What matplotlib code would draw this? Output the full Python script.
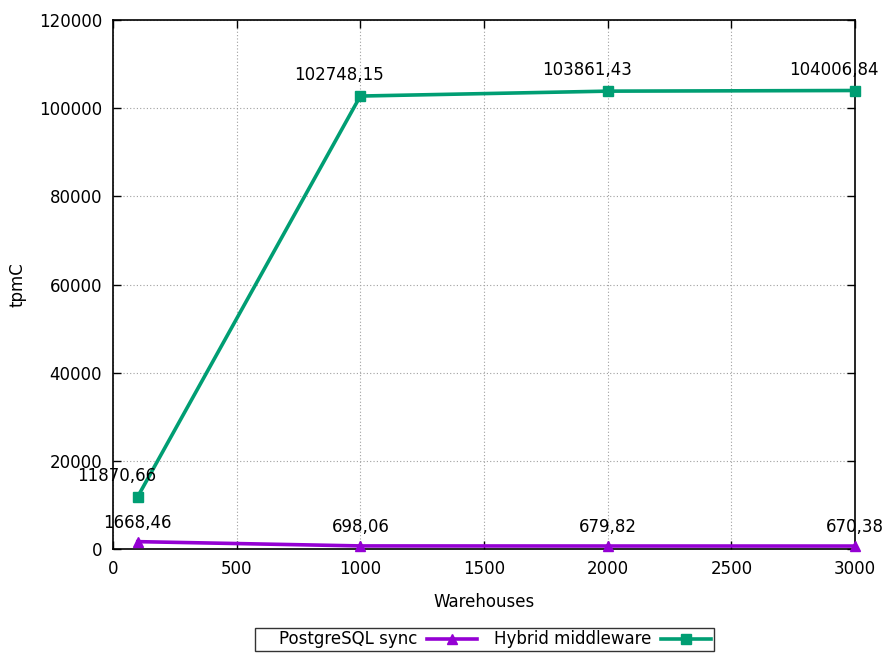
import matplotlib
matplotlib.use("Agg")
import matplotlib.pyplot as plt

warehouses = [100, 1000, 2000, 3000]
pg_sync = [1668.46, 698.06, 679.82, 670.38]
hybrid = [11870.66, 102748.15, 103861.43, 104006.84]
pg_labels = ["1668,46", "698,06", "679,82", "670,38"]
hy_labels = ["11870,66", "102748,15", "103861,43", "104006,84"]

plt.rcParams['font.family'] = ['DejaVu Sans']
plt.rcParams['font.size'] = 12

fig = plt.figure(figsize=(8.85, 6.53), dpi=100)
ax = fig.add_axes([113/885, 1-549/653, (855-113)/885, (549-20)/653])

purple = '#9400d3'
green = '#009e73'

ax.plot(warehouses, pg_sync, color=purple, lw=2.6, marker='^', ms=7.5, label='PostgreSQL sync',
        clip_on=False, zorder=3)
ax.plot(warehouses, hybrid, color=green, lw=2.6, marker='s', ms=6.5, label='Hybrid middleware',
        clip_on=False, zorder=3)

px = 72 / 100  # points per pixel
for x, y, t in zip(warehouses, pg_sync, pg_labels):
    ax.annotate(t, (x, y), xytext=(0, 19 * px), textcoords='offset points', ha='center', va='center')
for x, y, t in zip(warehouses, hybrid, hy_labels):
    ax.annotate(t, (x, y), xytext=(-21 * px, 21 * px), textcoords='offset points', ha='center', va='center')

ax.set_xlim(0, 3000)
ax.set_ylim(0, 120000)
ax.set_xticks([0, 500, 1000, 1500, 2000, 2500, 3000])
ax.set_yticks(range(0, 120001, 20000))
ax.tick_params(direction='in', top=True, right=True, length=6, width=1)
ax.tick_params(axis='y', pad=8)
ax.tick_params(axis='x', pad=8)
ax.grid(True, color='#a0a0a0', linestyle=(0, (1, 2)), linewidth=0.8)
for s in ax.spines.values():
    s.set_linewidth(1.2)
ax.set_xlabel('Warehouses')
ax.set_ylabel('tpmC')
ax.xaxis.set_label_coords(0.5, (549 - 602) / 529, transform=ax.transAxes)
ax.xaxis.label.set_va('center')
ax.yaxis.set_label_coords((18 - 113) / 742, 0.5, transform=ax.transAxes)
ax.yaxis.label.set_va('center')

leg = fig.legend(loc='center', bbox_to_anchor=(484.5/885, 1-639.5/653), ncol=2, markerfirst=False,
                 frameon=True, fancybox=False, edgecolor='black', handlelength=3,
                 borderpad=0.15, borderaxespad=0, columnspacing=1.0, handletextpad=0.6)
leg.get_frame().set_linewidth(1.0)
leg.get_texts()[0].set_text('    PostgreSQL sync')

fig.savefig('out.png', dpi=100)
